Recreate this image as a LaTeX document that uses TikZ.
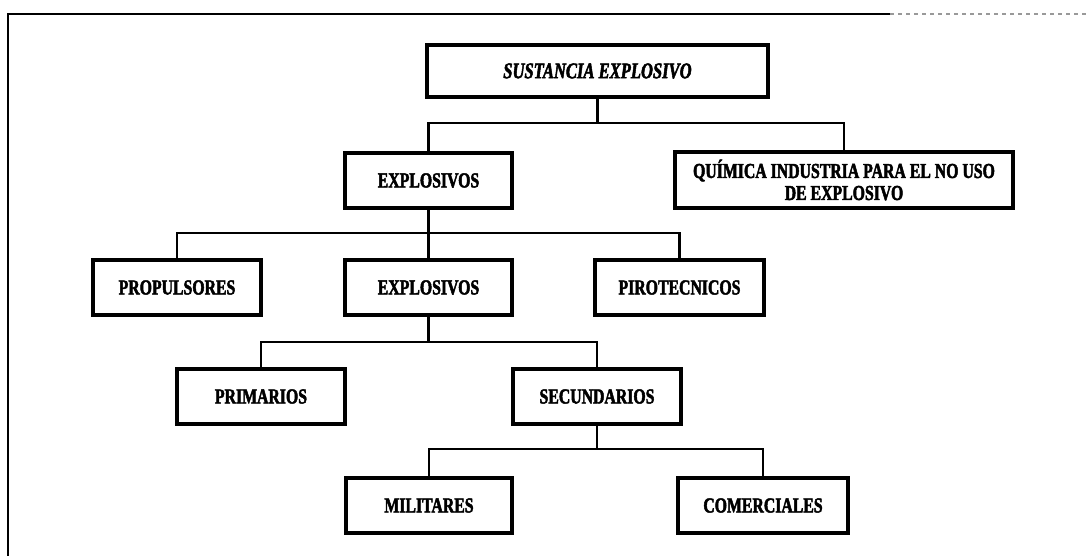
\documentclass[tikz,border=0pt]{standalone}
\usepackage{fontspec}
\setmainfont{Liberation Serif}[FakeStretch=0.74,BoldFeatures={FakeBold=2.2},BoldItalicFeatures={FakeBold=2.2}]
\begin{document}
\begin{tikzpicture}[x=0.75pt,y=-0.75pt,
  box/.style={draw=black,line width=2.4pt,fill=white,inner sep=0pt,
    minimum height=41.25pt,font=\fontsize{16}{16.5}\selectfont\bfseries,align=center},
  link/.style={draw=black,line width=1.7pt},
  frame/.style={draw=black,line width=1.4pt}]
% page area
\fill[white] (0,0) rectangle (1086,556);
\useasboundingbox (0,0) rectangle (1086,556);
% sheet border (top and left edges only)
\draw[frame] (890,14) -- (8,14) -- (8,556);
\draw[frame,draw=black!40,line width=1pt,dashed] (890,14) -- (1086,14);

% boxes
\node[box,minimum width=255.75pt,minimum height=39pt,
  font=\fontsize{16.8}{18}\selectfont\bfseries\itshape] (sust) at (597.5,71) {SUSTANCIA EXPLOSIVO};
\node[box,minimum width=125.25pt] (exp1) at (428.5,180.5) {EXPLOSIVOS};
\node[box,minimum width=253.5pt,minimum height=42pt] (quim) at (844,180) {QUÍMICA INDUSTRIA PARA EL NO USO\\DE EXPLOSIVO};
\node[box,minimum width=126pt] (prop) at (177,287.5) {PROPULSORES};
\node[box,minimum width=125.25pt] (exp2) at (428.5,287.5) {EXPLOSIVOS};
\node[box,minimum width=126.75pt] (piro) at (679.5,287.5) {PIROTECNICOS};
\node[box,minimum width=126pt] (prim) at (261,396.5) {PRIMARIOS};
\node[box,minimum width=126pt] (secu) at (597,396.5) {SECUNDARIOS};
\node[box,minimum width=124.5pt] (mili) at (429,505.5) {MILITARES};
\node[box,minimum width=127.5pt] (come) at (763,505.5) {COMERCIALES};

% junction points of the tree
\coordinate (j1) at (597.5,123);
\coordinate (j2) at (428.5,233);
\coordinate (j3) at (428.5,342);
\coordinate (j4) at (597,449);

% connectors
\draw[link] (sust.south) -- (j1);
\draw[link] (exp1.north) |- (j1) -| (quim.north);

\draw[link] (exp1.south) -- (exp2.north);
\draw[link] (prop.north) |- (j2) -| (piro.north);

\draw[link] (exp2.south) -- (j3);
\draw[link] (prim.north) |- (j3) -| (secu.north);

\draw[link] (secu.south) -- (j4);
\draw[link] (mili.north) |- (j4) -| (come.north);
\end{tikzpicture}
\end{document}
